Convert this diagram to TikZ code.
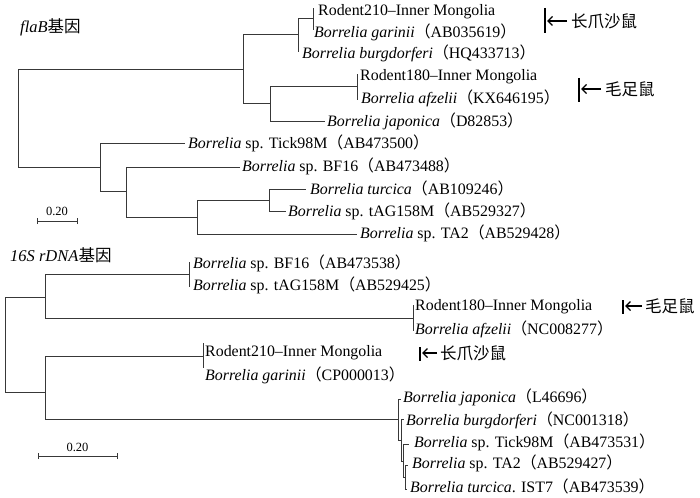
\documentclass[tikz,border=0pt]{standalone}
\usepackage{fontspec}
\setmainfont{Liberation Serif}
\newfontfamily\cjk{Noto Sans CJK SC}
\usetikzlibrary{arrows.meta}
\newcommand\acc[1]{{\cjk （}#1{\cjk ）}}
\newcommand\bor[1]{\textit{Borrelia #1}}
\begin{document}
\begin{tikzpicture}[x=1pt,y=-1pt,
  br/.style={line width=1pt, draw=black!78},
  lab/.style={anchor=west, inner sep=0pt, font=\fontsize{15.9}{17}\selectfont},
  ttl/.style={anchor=west, inner sep=0pt, font=\fontsize{16.5}{18}\selectfont},
  scl/.style={inner sep=0pt, font=\fontsize{12.5}{14}\selectfont},
  mbar/.style={line width=1.2pt, draw=black},
  marr/.style={line width=1.4pt, draw=black, -{Straight Barb[length=4.5pt,width=9pt]}},
  mtxt/.style={anchor=west, inner sep=0pt, font=\cjk\fontsize{16.5}{18}\selectfont}]
\useasboundingbox (0,0) rectangle (700,497);

% ---------- top tree (flaB) ----------
\node[ttl] (title1) at (20,27) {\textit{flaB}{\cjk 基因}};

\coordinate (r1) at (18,118.5);
\coordinate (c1) at (243,70);
\coordinate (d1) at (100,167);
\coordinate (c2) at (298,35);
\coordinate (c3) at (270,104);
\coordinate (c4) at (313,19);
\coordinate (c5) at (357,87);
\coordinate (d2) at (126,191);
\coordinate (d3) at (197,217);
\coordinate (d4) at (269,200);
% tips
\coordinate (ta1) at (313,8);
\coordinate (ta2) at (313,30);
\coordinate (ta3) at (299,52);
\coordinate (ta4) at (357,74);
\coordinate (ta5) at (357,100);
\coordinate (ta6) at (325,122);
\coordinate (ta7) at (185,144);
\coordinate (ta8) at (240,167);
\coordinate (ta9) at (306,189);
\coordinate (ta10) at (286,211);
\coordinate (ta11) at (357,234);

\draw[br] (r1) |- (c1);  \draw[br] (r1) |- (d1);
\draw[br] (c1) |- (c2);  \draw[br] (c1) |- (c3);
\draw[br] (c2) |- (c4);  \draw[br] (c2) |- (ta3);
\draw[br] (c4) |- (ta1); \draw[br] (c4) |- (ta2);
\draw[br] (c3) |- (c5);  \draw[br] (c3) |- (ta6);
\draw[br] (c5) |- (ta4); \draw[br] (c5) |- (ta5);
\draw[br] (d1) |- (ta7); \draw[br] (d1) |- (d2);
\draw[br] (d2) |- (ta8); \draw[br] (d2) |- (d3);
\draw[br] (d3) |- (d4);  \draw[br] (d3) |- (ta11);
\draw[br] (d4) |- (ta9); \draw[br] (d4) |- (ta10);

\node[lab] (la1) at (318,12) {Rodent210–Inner Mongolia};
\node[lab] (la2) at (314,32) {\bor{garinii}\acc{AB035619}};
\node[lab] (la3) at (302,53) {\bor{burgdorferi}\acc{HQ433713}};
\node[lab] (la4) at (360,77) {Rodent180–Inner Mongolia};
\node[lab] (la5) at (361,98) {\bor{afzelii}\acc{KX646195}};
\node[lab] (la6) at (327,121) {\bor{japonica}\acc{D82853}};
\node[lab] (la7) at (188,143) {\bor{}sp. Tick98M\acc{AB473500}};
\node[lab] (la8) at (242,166) {\bor{}sp. BF16\acc{AB473488}};
\node[lab] (la9) at (310,188) {\bor{turcica}\acc{AB109246}};
\node[lab] (la10) at (288,211) {\bor{}sp. tAG158M\acc{AB529327}};
\node[lab] (la11) at (360,233) {\bor{}sp. TA2\acc{AB529428}};

% markers top
\coordinate (m1a) at (545,8);  \coordinate (m1b) at (545,33);
\draw[mbar] (m1a) -- (m1b);
\node[mtxt] (m1t) at (571,21) {长爪沙鼠};
\coordinate (m1s) at (567,21); \coordinate (m1e) at (547,21);
\draw[marr] (m1s) -- (m1e);
\coordinate (m2a) at (579,78); \coordinate (m2b) at (579,102);
\draw[mbar] (m2a) -- (m2b);
\node[mtxt] (m2t) at (605,89) {毛足鼠};
\coordinate (m2s) at (601,89); \coordinate (m2e) at (581,89);
\draw[marr] (m2s) -- (m2e);

% scale top
\coordinate (s1a) at (37,221); \coordinate (s1b) at (77,221);
\draw[br] (s1a) -- (s1b);
\draw[br] ([yshift=-3pt]s1a) -- ([yshift=3pt]s1a);
\draw[br] ([yshift=-3pt]s1b) -- ([yshift=3pt]s1b);
\node[scl] (s1t) at (57,211) {0.20};

% ---------- bottom tree (16S rDNA) ----------
\node[ttl] (title2) at (10,255) {\textit{16S rDNA}{\cjk 基因}};

\coordinate (r2) at (5,344.5);
\coordinate (e1) at (45,297);
\coordinate (f1) at (45,392);
\coordinate (e2) at (189,274);
\coordinate (e3) at (413,318);
\coordinate (f2) at (203,356);
\coordinate (g1) at (398,419);
\coordinate (g2) at (401,440);
\coordinate (g3) at (403,461);
\coordinate (g4) at (405,477);
% tips
\coordinate (tb1) at (189,262);
\coordinate (tb2) at (189,287);
\coordinate (tb3) at (413,305);
\coordinate (tb4) at (413,331);
\coordinate (tb5) at (203,343);
\coordinate (tb6) at (203,368);
\coordinate (tb7) at (401,399);
\coordinate (tb8) at (404,419);
\coordinate (tb9) at (409,444);
\coordinate (tb10) at (408,465);
\coordinate (tb11) at (407,489);

\draw[br] (r2) |- (e1);  \draw[br] (r2) |- (f1);
\draw[br] (e1) |- (e2);  \draw[br] (e1) |- (e3);
\draw[br] (e2) |- (tb1); \draw[br] (e2) |- (tb2);
\draw[br] (e3) |- (tb3); \draw[br] (e3) |- (tb4);
\draw[br] (f1) |- (f2);  \draw[br] (f1) |- (g1);
\draw[br] (f2) |- (tb5); \draw[br] (f2) |- (tb6);
\draw[br] (g1) |- (tb7); \draw[br] (g1) |- (g2);
\draw[br] (g2) |- (tb8); \draw[br] (g2) |- (g3);
\draw[br] (g3) |- (tb9); \draw[br] (g3) |- (g4);
\draw[br] (g4) |- (tb10); \draw[br] (g4) |- (tb11);

\node[lab] (lb1) at (193,263) {\bor{}sp. BF16\acc{AB473538}};
\node[lab] (lb2) at (193,285) {\bor{}sp. tAG158M\acc{AB529425}};
\node[lab] (lb3) at (415,307) {Rodent180–Inner Mongolia};
\node[lab] (lb4) at (415,329) {\bor{afzelii}\acc{NC008277}};
\node[lab] (lb5) at (205,353) {Rodent210–Inner Mongolia};
\node[lab] (lb6) at (205,375) {\bor{garinii}\acc{CP000013}};
\node[lab] (lb7) at (403,397) {\bor{japonica}\acc{L46696}};
\node[lab] (lb8) at (406,420) {\bor{burgdorferi}\acc{NC001318}};
\node[lab] (lb9) at (414,442) {\bor{}sp. Tick98M\acc{AB473531}};
\node[lab] (lb10) at (412,463) {\bor{}sp. TA2\acc{AB529427}};
\node[lab] (lb11) at (410,486) {\bor{turcica}. IST7\acc{AB473539}};

% markers bottom
\coordinate (m3a) at (623,300); \coordinate (m3b) at (623,314);
\draw[mbar] (m3a) -- (m3b);
\node[mtxt] (m3t) at (645,306) {毛足鼠};
\coordinate (m3s) at (642,306); \coordinate (m3e) at (625,306);
\draw[marr] (m3s) -- (m3e);
\coordinate (m4a) at (420,347); \coordinate (m4b) at (420,361);
\draw[mbar] (m4a) -- (m4b);
\node[mtxt] (m4t) at (440,353) {长爪沙鼠};
\coordinate (m4s) at (437,353); \coordinate (m4e) at (422,353);
\draw[marr] (m4s) -- (m4e);

% scale bottom
\coordinate (s2a) at (38,456); \coordinate (s2b) at (117,456);
\draw[br] (s2a) -- (s2b);
\draw[br] ([yshift=-3pt]s2a) -- ([yshift=3pt]s2a);
\draw[br] ([yshift=-3pt]s2b) -- ([yshift=3pt]s2b);
\node[scl] (s2t) at (77.5,447) {0.20};
\end{tikzpicture}
\end{document}
